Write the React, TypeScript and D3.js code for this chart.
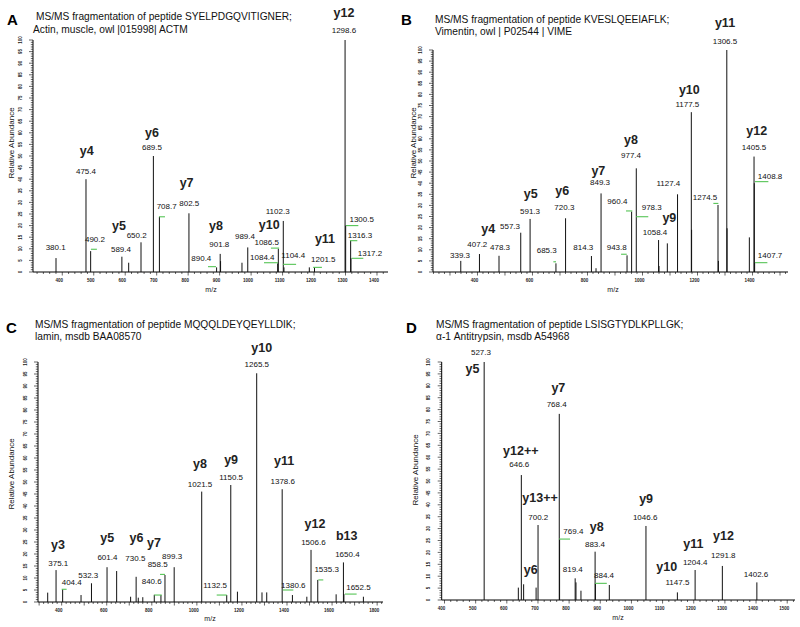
import React from "react";
import * as d3 from "d3";

type Peak = [number, number];
type Lab = [string, number, number];
type Green = [number, number, number];

// ---------- Panel A ----------
const titleA = ["MS/MS fragmentation of peptide SYELPDGQVITIGNER;", "Actin, muscle, owl |015998| ACTM"];
const domainA: [number, number] = [307, 1435];
const ticksA = [400, 500, 600, 700, 800, 900, 1000, 1100, 1200, 1300, 1400];
const peaksA: Peak[] = [
  [380.1, 6], [475.4, 40], [490.2, 9], [589.4, 6.6], [611, 4], [650.2, 12.8], [689.5, 50],
  [708.7, 23.8], [802.5, 25.3], [890.4, 2], [901.8, 7.8], [903, 4.7], [971, 4], [989.4, 10.6],
  [1084.4, 3.7], [1086.5, 10], [1102.3, 22], [1104.4, 2], [1185, 2], [1201.5, 2], [1298.6, 100],
  [1300.5, 20], [1316.3, 13.5], [1317.2, 6],
];
const greenA: Green[] = [
  [491, 510, 9.8], [707.4, 726.4, 23.8], [863, 888.5, 2.3], [1041, 1085.5, 4], [1063, 1089, 10.3],
  [1101, 1143, 3.3], [1197, 1225, 2], [1301.6, 1340.7, 20], [1314, 1337.5, 13.5], [1319.7, 1356.6, 5.9],
];
const ionsA: Lab[] = [
  ["y4", 477.6, 50.4], ["y5", 580, 18.1], ["y6", 685, 58.3], ["y7", 795, 36.5], ["y8", 888.5, 18.1],
  ["y10", 1057.8, 18.7], ["y11", 1234.8, 12.4], ["y12", 1295, 110],
];
const massesA: Lab[] = [
  ["380.1", 379, 9.5], ["475.4", 475.4, 42.2], ["490.2", 504, 13.1], ["589.4", 586.6, 8.5],
  ["650.2", 636.5, 14.5], ["689.5", 685, 52.6], ["708.7", 731.8, 27], ["802.5", 803.6, 28.4],
  ["890.4", 841.8, 4.9], ["901.8", 899, 10.6], ["989.4", 980.6, 14.1], ["1084.4", 1035.6, 5.2],
  ["1086.5", 1049.6, 11.8], ["1102.3", 1084.5, 25], ["1104.4", 1134, 5.9], ["1201.5", 1229.4, 4.4],
  ["1298.6", 1295, 103], ["1300.5", 1351.4, 21.4], ["1316.3", 1346, 14.5], ["1317.2", 1377.8, 6.9],
];

// ---------- Panel B ----------
const titleB = ["MS/MS fragmentation of peptide KVESLQEEIAFLK;", "Vimentin, owl | P02544 | VIME"];
const domainB: [number, number] = [238.3, 1529];
const ticksB = [400, 600, 800, 1000, 1200, 1400];
const peaksB: Peak[] = [
  [339.3, 5], [407.2, 8.1], [478.3, 7.3], [557.3, 17.7], [591.3, 23.9], [685.3, 3.9], [720.3, 24.2],
  [814.3, 7.2], [831, 1.7], [849.3, 35.4], [943.8, 7.5], [960.4, 27.2], [977.4, 46.7], [1058.4, 14.4],
  [1060, 2.7], [1090.3, 12.9], [1127.4, 35], [1177.5, 72], [1178.5, 19], [1274.5, 30.2], [1276, 5],
  [1306.5, 100], [1307.5, 19.7], [1388.5, 15.6], [1405.5, 52], [1406.5, 40], [1407.7, 4],
];
const greenB: Green[] = [
  [675.8, 685.6, 4.6], [922, 942.7, 8], [940, 963, 27.5], [976.5, 1021, 24.9],
  [1257.6, 1275.8, 30.9], [1409, 1457.6, 40.7], [1409, 1454, 4.2],
];
const ionsB: Lab[] = [
  ["y4", 439.4, 17.7], ["y5", 593.6, 33.2], ["y6", 708.5, 34.7], ["y7", 839.4, 43.7], ["y8", 958.3, 57.7],
  ["y9", 1097.6, 22.4], ["y10", 1170.3, 80.2], ["y11", 1300, 110.2], ["y12", 1415.4, 61.7],
];
const massesB: Lab[] = [
  ["339.3", 336.5, 6.2], ["407.2", 399.4, 11.4], ["478.3", 482, 9.9], ["557.3", 518.3, 19.2],
  ["591.3", 591, 26.1], ["685.3", 651.8, 8.4], ["720.3", 715.8, 27.9], ["814.3", 784.8, 9.9],
  ["849.3", 845.6, 39.2], ["943.8", 906.3, 9.9], ["960.4", 908.5, 30.5], ["977.4", 958.3, 51.2],
  ["978.3", 1033.6, 27.9], ["1058.4", 1045.6, 16.7], ["1127.4", 1094, 38.7], ["1177.5", 1163, 74.5],
  ["1274.5", 1227.4, 32.4], ["1306.5", 1300, 102.7], ["1405.5", 1405.6, 55], ["1408.8", 1463.8, 41.8],
  ["1407.7", 1463.8, 6.2],
];

// ---------- Panel C ----------
const titleC = ["MS/MS fragmentation of peptide MQQQLDEYQEYLLDIK;", "lamin, msdb BAA08570"];
const domainC: [number, number] = [295, 1826];
const ticksC = [400, 600, 800, 1000, 1200, 1400, 1600, 1800];
const peaksC: Peak[] = [
  [338, 3.9], [375.1, 13.3], [404.4, 5.3], [486, 2.9], [532.3, 7.8], [601.4, 14.5], [644, 12.9],
  [706, 2.2], [730.5, 10.5], [740, 1.8], [760, 2], [811, 3], [840.6, 2.9], [858.5, 11.25],
  [899.3, 14.5], [1021.5, 46], [1132.5, 2.9], [1150.5, 48.75], [1180, 4.3], [1265.5, 95.3],
  [1289, 4], [1310, 4], [1378.6, 47], [1424, 2.9], [1488, 2.2], [1506.6, 21.7], [1536.5, 9.2],
  [1618, 3.2], [1650.4, 16.5], [1652.5, 3.3], [1739, 2.2],
];
const greenC: Green[] = [
  [400, 422, 5.3], [811, 844, 2.9], [836.5, 858.5, 11.5], [1088, 1132.5, 2.9],
  [1381, 1428, 5], [1539, 1561, 9.2], [1657, 1709, 3.3],
];
const ionsC: Lab[] = [
  ["y3", 383.8, 22], ["y5", 602, 24.9], ["y6", 732, 24.9], ["y7", 810, 22.8], ["y8", 1014, 55.7],
  ["y9", 1152, 57.5], ["y10", 1288, 104.3], ["y11", 1387, 57], ["y12", 1524, 30.7], ["b13", 1665, 25.8],
];
const massesC: Lab[] = [
  ["375.1", 385, 15], ["404.4", 444.6, 7.1], ["532.3", 518, 9.9], ["601.4", 603, 17.5],
  ["730.5", 727, 17.2], ["840.6", 799.7, 7.5], ["858.5", 826, 14.5], ["899.3", 890, 17.8],
  ["1021.5", 1014, 48], ["1132.5", 1081, 5.7], ["1150.5", 1152, 50.8], ["1265.5", 1266, 98],
  ["1378.6", 1381, 49.2], ["1380.6", 1428, 5.7], ["1506.6", 1517, 23.75], ["1535.3", 1576, 12.6],
  ["1650.4", 1668, 18.9], ["1652.5", 1717, 5],
];

// ---------- Panel D ----------
const titleD = ["MS/MS fragmentation of peptide LSISGTYDLKPLLGK;", "\u03b1-1 Antitrypsin, msdb A54968"];
const domainD: [number, number] = [391, 1525];
const ticksD = [400, 500, 600, 700, 800, 900, 1000, 1100, 1200, 1300, 1400, 1500];
const peaksD: Peak[] = [
  [527.3, 100], [637, 5.2], [646.6, 52.5], [654, 6.6], [694, 5.2], [700.2, 31.5], [768.4, 78.2],
  [769.4, 25.6], [819.4, 9.1], [822, 7.4], [838, 3.9], [883.4, 20.3], [884.4, 7], [929, 6.3],
  [1046.6, 31.1], [1147.5, 3.2], [1204.4, 12.6], [1291.8, 14.3], [1402.6, 7.4],
];
const greenD: Green[] = [[767.7, 803, 25.6], [883, 920.9, 7]];
const ionsD: Lab[] = [
  ["y5", 490, 95.2], ["y12++", 645, 61], ["y7", 765.5, 87.5], ["y13++", 706.7, 41.3], ["y6", 676.8, 10.9],
  ["y8", 888.7, 29.1], ["y9", 1047, 40.6], ["y10", 1113.5, 12.2], ["y11", 1199, 21.7], ["y12", 1295.3, 25.2],
];
const massesD: Lab[] = [
  ["527.3", 517, 103], ["646.6", 640, 55.8], ["768.4", 760, 81.2], ["700.2", 701, 33.6],
  ["769.4", 813.6, 27.7], ["883.4", 883, 22.1], ["819.4", 811.7, 11.6], ["884.4", 912, 9.1],
  ["1046.6", 1044, 33.6], ["1147.5", 1147.6, 6.3], ["1204.4", 1204.5, 14.7], ["1291.8", 1295, 17.5],
  ["1402.6", 1400, 9.8],
];

const FONT = "'Liberation Sans', Arial, Helvetica, sans-serif";

interface Spec {
  letter: string;
  title: string[];
  domain: [number, number];
  ticks: number[];
  peaks: Peak[];
  greens: Green[];
  ions: Lab[];
  masses: Lab[];
  left: number;
  right: number;
  top: number;
  bottom: number;
  letterPos: [number, number];
  titlePos: [number, number, number, number];
  yTitlePos: [number, number];
  mzPos: [number, number];
}

const specs: Spec[] = [
  {
    letter: "A", title: titleA, domain: domainA, ticks: ticksA, peaks: peaksA, greens: greenA, ions: ionsA, masses: massesA,
    left: 33, right: 388, top: 40, bottom: 272, letterPos: [7, 25], titlePos: [36, 19.5, 33, 32.5], yTitlePos: [14, 143], mzPos: [211, 292],
  },
  {
    letter: "B", title: titleB, domain: domainB, ticks: ticksB, peaks: peaksB, greens: greenB, ions: ionsB, masses: massesB,
    left: 433, right: 788, top: 50, bottom: 272, letterPos: [401, 25], titlePos: [435, 23, 435, 35], yTitlePos: [416, 143], mzPos: [613, 292],
  },
  {
    letter: "C", title: titleC, domain: domainC, ticks: ticksC, peaks: peaksC, greens: greenC, ions: ionsC, masses: massesC,
    left: 38, right: 383, top: 362, bottom: 602, letterPos: [6, 333], titlePos: [35, 328, 35, 340], yTitlePos: [14, 474], mzPos: [210, 621],
  },
  {
    letter: "D", title: titleD, domain: domainD, ticks: ticksD, peaks: peaksD, greens: greenD, ions: ionsD, masses: massesD,
    left: 441.7, right: 795, top: 362, bottom: 600, letterPos: [406, 333], titlePos: [436, 328, 436, 340], yTitlePos: [418, 470], mzPos: [618, 620],
  },
];

function Panel({ s }: { s: Spec }) {
  const x = d3.scaleLinear().domain(s.domain).range([s.left, s.right]);
  const y = d3.scaleLinear().domain([0, 100]).range([s.bottom, s.top]);
  const yMinor = d3.range(0, 101, 1);
  const yMajor = d3.range(0, 101, 5);
  const xMinor = d3.range(Math.ceil(s.domain[0] / 20) * 20, s.domain[1], 20);
  const peakPath = (p: Peak) => `M${x(p[0])},${y(0)}V${y(p[1])}`;
  return (
    <g fontFamily={FONT}>
      <text x={s.letterPos[0]} y={s.letterPos[1]} fontSize={15} fontWeight="bold" fill="#000">{s.letter}</text>
      <text x={s.titlePos[0]} y={s.titlePos[1]} fontSize={10.2} fill="#111">{s.title[0]}</text>
      <text x={s.titlePos[2]} y={s.titlePos[3]} fontSize={10.2} fill="#111">{s.title[1]}</text>
      <text
        transform={`translate(${s.yTitlePos[0]},${s.yTitlePos[1]}) rotate(-90)`}
        fontSize={8} textAnchor="middle" fill="#111"
      >Relative  Abundance</text>
      <text x={s.mzPos[0]} y={s.mzPos[1]} fontSize={7} textAnchor="middle" fill="#111">m/z</text>
      {/* axes */}
      <line x1={s.left} x2={s.left} y1={s.top} y2={s.bottom} stroke="#000" strokeWidth={1} />
      <line x1={s.left} x2={s.right} y1={s.bottom} y2={s.bottom} stroke="#000" strokeWidth={1} />
      {yMinor.map((v) => (
        <line key={"ym" + v} x1={s.left - (v % 5 === 0 ? 4 : 2.2)} x2={s.left} y1={y(v)} y2={y(v)} stroke="#000" strokeWidth={0.6} />
      ))}
      {yMajor.map((v) => (
        <text key={"yl" + v} transform={`translate(${s.left - 13},${y(v)}) rotate(-90)`} fontSize={4.5}
          textAnchor="middle" dy={1.6} fill="#222" fontWeight="bold">{v}</text>
      ))}
      {xMinor.map((v) => (
        <line key={"xm" + v} x1={x(v)} x2={x(v)} y1={s.bottom} y2={s.bottom + (v % 100 === 0 ? 3.5 : 2)} stroke="#000" strokeWidth={0.6} />
      ))}
      {s.ticks.map((v) => (
        <text key={"xl" + v} x={x(v) - 3} y={s.bottom + 10} fontSize={4.5} textAnchor="middle" fill="#222" fontWeight="bold">{v}</text>
      ))}
      {/* peaks */}
      {s.peaks.map((p, i) => (
        <path key={"p" + i} d={peakPath(p)} stroke="#111" strokeWidth={1} fill="none" />
      ))}
      {/* green markers */}
      {s.greens.map((g, i) => (
        <line key={"g" + i} x1={x(g[0])} x2={x(g[1])} y1={y(g[2])} y2={y(g[2])} stroke="#55c455" strokeWidth={1.1} />
      ))}
      {s.masses.map((m, i) => (
        <text key={"m" + i} x={x(m[1])} y={y(m[2])} fontSize={8} textAnchor="middle" fill="#111">{m[0]}</text>
      ))}
      {s.ions.map((m, i) => (
        <text key={"i" + i} x={x(m[1])} y={y(m[2])} fontSize={12.5} fontWeight="bold" textAnchor="middle" fill="#222">{m[0]}</text>
      ))}
    </g>
  );
}

export default function App() {
  return (
    <div style={{ position: "absolute", left: 0, top: 0, width: 800, height: 627, background: "#fff" }}>
      <svg width={800} height={627} viewBox="0 0 800 627" style={{ display: "block" }}>
        <rect width={800} height={627} fill="#fff" />
        {specs.map((s) => (
          <Panel key={s.letter} s={s} />
        ))}
      </svg>
    </div>
  );
}
